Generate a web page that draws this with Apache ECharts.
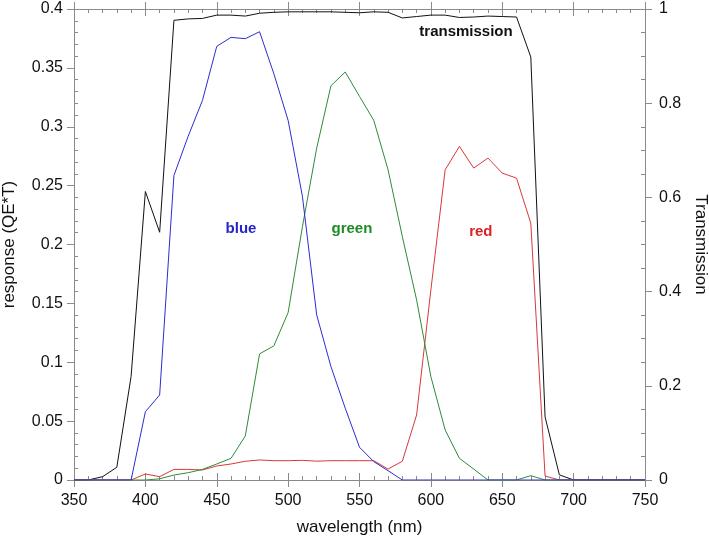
<!DOCTYPE html>
<html>
<head>
<meta charset="utf-8">
<script src="https://cdn.jsdelivr.net/npm/echarts@6/dist/echarts.min.js"></script>
<style>
html,body{margin:0;padding:0;background:#fff;}
#c{width:709px;height:537px;}
</style>
</head>
<body>
<div id="c"></div>
<script>
const wavelength = [350,360,370,380,390,400,410,420,430,440,450,460,470,480,490,500,510,520,530,540,550,560,570,580,590,600,610,620,630,640,650,660,670,680,690,700,710,720,730,740,750];
const transmission = [0,0,0.007,0.027,0.22,0.6125,0.526,0.976,0.979,0.98,0.987,0.987,0.985,0.991,0.993,0.994,0.994,0.994,0.994,0.993,0.992,0.994,0.993,0.981,0.984,0.987,0.987,0.982,0.983,0.985,0.984,0.983,0.898,0.134,0.011,0,0,0,0,0,0];
const blue = [0,0,0,0,0,0.058,0.0722,0.2586,0.292,0.3224,0.3683,0.3759,0.3748,0.3807,0.345,0.3054,0.241,0.1402,0.0963,0.061,0.0278,0.0156,0.0079,0,0,0,0,0,0,0,0,0,0,0,0,0,0,0,0,0,0];
const green = [0,0,0,0,0,0,0.001,0.0042,0.0062,0.009,0.0136,0.0184,0.0374,0.1071,0.1139,0.1422,0.215,0.2818,0.3348,0.3465,0.3258,0.3054,0.2635,0.2068,0.153,0.0878,0.0425,0.0184,0.0093,0,0,0,0.0037,0,0,0,0,0,0,0,0];
const red = [0,0,0,0,0,0.0051,0.0028,0.009,0.009,0.0085,0.0119,0.0136,0.0159,0.017,0.0164,0.0164,0.0167,0.016,0.0164,0.0164,0.0164,0.0164,0.0093,0.0159,0.0552,0.1615,0.2634,0.2833,0.2649,0.2734,0.2606,0.2564,0.2181,0.0034,0,0,0,0,0,0,0];
// annotation labels: [text, wavelength, value]
const labelBlue = ['blue', 467, 0.2133];
const labelGreen = ['green', 544.7, 0.2133];
const labelRed = ['red', 635, 0.2108];
const labelTrans = ['transmission', 624.6, 0.952];

const FONT = '"Liberation Sans", Arial, Helvetica, sans-serif';
const AX = '#8a8a8a';

function pairs(ys){ return wavelength.map((x,i)=>[x, ys[i]]); }
function mark(lbl, color){
  return {
    silent: true,
    symbol: 'rect', symbolSize: [1,1],
    itemStyle: {color: 'rgba(0,0,0,0)'},
    label: {show: true, position: 'inside', formatter: lbl[0], color: color,
      fontFamily: FONT, fontSize: 15, fontWeight: 'bold'},
    data: [{coord: [lbl[1], lbl[2]]}]
  };
}

const xBase = {type:'value', min:350, max:750, interval:50, splitLine:{show:false},
  axisLine:{show:true, onZero:false, lineStyle:{color:AX, width:1}}};
const chart = echarts.init(document.getElementById('c'), null, {renderer:'canvas'});
chart.setOption({
  animation: false,
  backgroundColor: '#fff',
  textStyle: {fontFamily: FONT},
  grid: {left:74, right:64, top:9, bottom:57, containLabel:false, outerBoundsMode:'none'},
  xAxis: [
    Object.assign({}, xBase, {position:'bottom',
      name:'wavelength (nm)', nameLocation:'middle', nameGap:39,
      nameTextStyle:{fontFamily:FONT, fontSize:17, color:'#111'},
      axisTick:{show:true, inside:false, length:7, lineStyle:{color:AX}},
      axisLabel:{show:true, margin:13, fontFamily:FONT, fontSize:16, color:'#111'}}),
    Object.assign({}, xBase, {position:'bottom',
      axisTick:{show:true, inside:true, length:7, lineStyle:{color:AX}},
      minorTick:{show:true, splitNumber:5, length:4, lineStyle:{color:AX}},
      axisLabel:{show:false}}),
    Object.assign({}, xBase, {position:'top',
      axisTick:{show:true, inside:false, length:7, lineStyle:{color:AX}},
      axisLabel:{show:false}}),
    Object.assign({}, xBase, {position:'top',
      axisTick:{show:true, inside:true, length:7, lineStyle:{color:AX}},
      minorTick:{show:true, splitNumber:5, length:4, lineStyle:{color:AX}},
      axisLabel:{show:false}})
  ],
  yAxis: [
    {type:'value', position:'left', min:0, max:0.4, interval:0.05,
      name:'response (QE*T)', nameLocation:'middle', nameGap:56, nameRotate:90,
      nameTextStyle:{fontFamily:FONT, fontSize:17, color:'#111'},
      splitLine:{show:false},
      axisLine:{show:true, lineStyle:{color:AX}},
      axisTick:{show:true, inside:false, length:7, lineStyle:{color:AX}},
      axisLabel:{show:true, margin:11, fontFamily:FONT, fontSize:16, color:'#111'}},
    {type:'value', position:'left', min:0, max:0.4, interval:0.05,
      splitLine:{show:false},
      axisLine:{show:true, lineStyle:{color:AX}},
      axisTick:{show:false, inside:true, length:4},
      minorTick:{show:true, splitNumber:5, length:4, lineStyle:{color:AX}},
      axisLabel:{show:false}},
    {type:'value', position:'right', min:0, max:1, interval:0.2,
      name:'Transmission', nameLocation:'middle', nameGap:45, nameRotate:-90,
      nameTextStyle:{fontFamily:FONT, fontSize:17, color:'#111'},
      splitLine:{show:false},
      axisLine:{show:true, lineStyle:{color:AX}},
      axisTick:{show:true, inside:false, length:7, lineStyle:{color:AX}},
      axisLabel:{show:true, margin:14, fontFamily:FONT, fontSize:16, color:'#111'}},
    {type:'value', position:'right', min:0, max:1, interval:0.2,
      splitLine:{show:false},
      axisLine:{show:true, lineStyle:{color:AX}},
      axisTick:{show:false, inside:true, length:4},
      minorTick:{show:true, splitNumber:4, length:4, lineStyle:{color:AX}},
      axisLabel:{show:false}}
  ],
  series: [
    {name:'transmission', type:'line', xAxisIndex:0, yAxisIndex:2, data:pairs(transmission),
      showSymbol:false, symbol:'none', lineStyle:{color:'#111', width:1}, itemStyle:{color:'#111'},
      markPoint: mark(labelTrans, '#111')},
    {name:'red', type:'line', xAxisIndex:0, yAxisIndex:0, data:pairs(red),
      showSymbol:false, symbol:'none', lineStyle:{color:'#d9383a', width:1}, itemStyle:{color:'#d9383a'},
      markPoint: mark(labelRed, '#dd2222')},
    {name:'green', type:'line', xAxisIndex:0, yAxisIndex:0, data:pairs(green),
      showSymbol:false, symbol:'none', lineStyle:{color:'#2e8b37', width:1}, itemStyle:{color:'#2e8b37'},
      markPoint: mark(labelGreen, '#1f8a26')},
    {name:'blue', type:'line', xAxisIndex:0, yAxisIndex:0, data:pairs(blue),
      showSymbol:false, symbol:'none', lineStyle:{color:'#2c2cd0', width:1}, itemStyle:{color:'#2c2cd0'},
      markPoint: mark(labelBlue, '#2424c8')}
  ]
});
</script>
</body>
</html>
